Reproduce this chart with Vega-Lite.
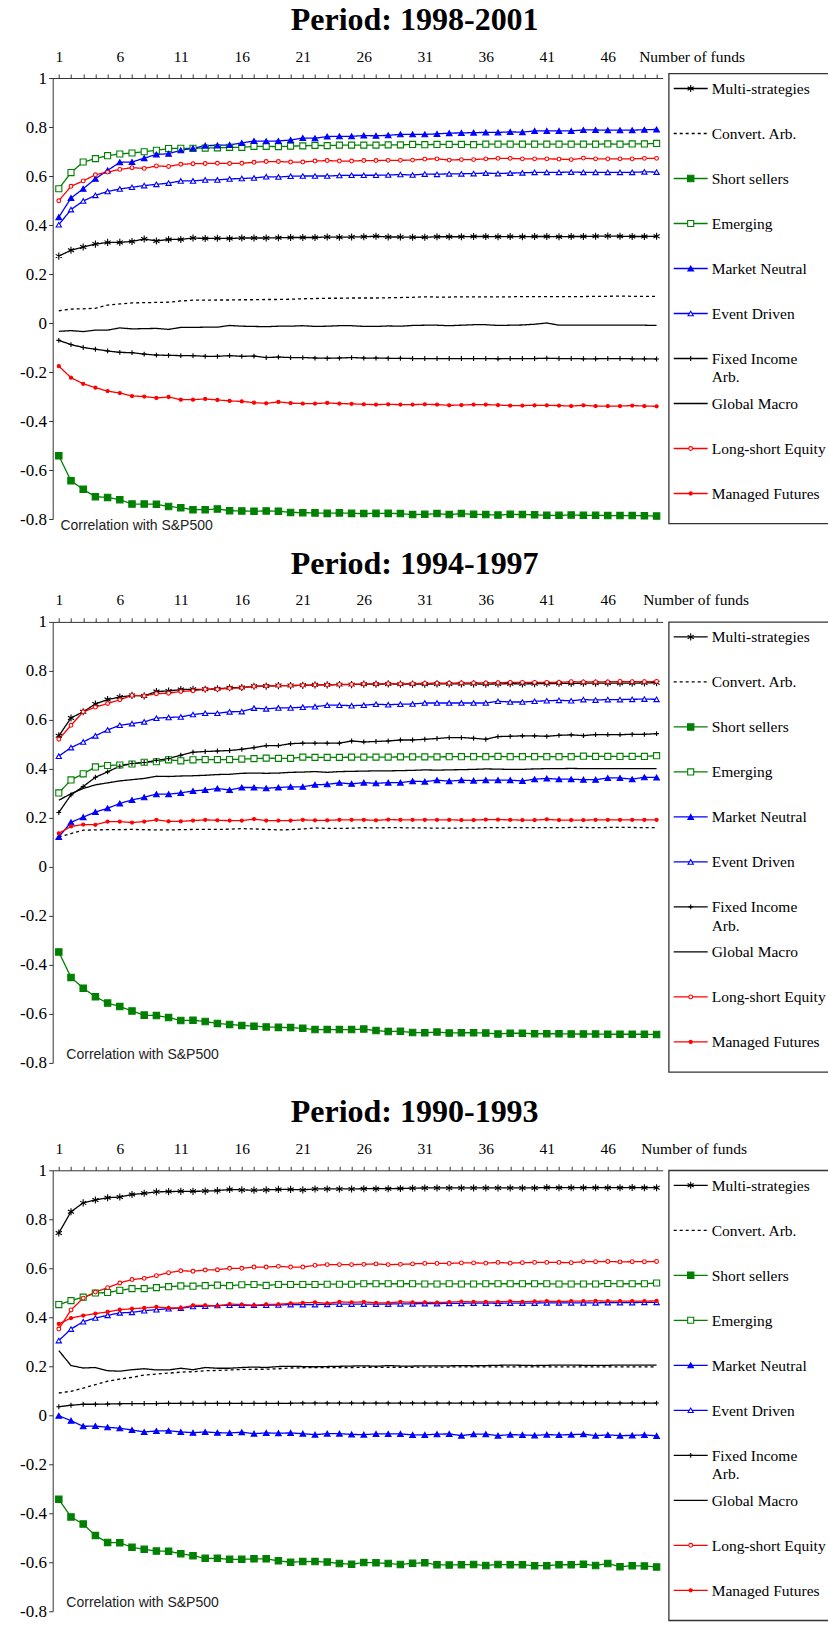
{
"$schema": "https://vega.github.io/schema/vega-lite/v6.json",
"background": "white",
"padding": {"left": 18.7, "top": 3.5, "right": 0, "bottom": 0},
"columns": 2,
"bounds": "flush",
"center": true,
"spacing": {"row": 98.4, "column": 6},
"config": {
  "view": {"stroke": null},
  "axis": {"labelFont": "Liberation Serif", "labelFontSize": 15.5, "labelColor": "#000", "titleFont": "Liberation Serif", "titleFontSize": 15.5, "titleFontWeight": "normal", "titleColor": "#000", "domainColor": "#333", "tickColor": "#333", "grid": false},
  "title": {"font": "Liberation Serif", "fontSize": 32, "fontWeight": "bold", "color": "#000", "anchor": "middle"}
},
"datasets": {
"leg": [
{"key":"MS","label":"Multi-strategies"},
{"key":"CA","label":"Convert. Arb."},
{"key":"SS","label":"Short sellers"},
{"key":"EM","label":"Emerging"},
{"key":"MN","label":"Market Neutral"},
{"key":"ED","label":"Event Driven"},
{"key":"FI","label":"Fixed Income\nArb."},
{"key":"GM","label":"Global Macro"},
{"key":"LS","label":"Long-short Equity"},
{"key":"MF","label":"Managed Futures"}
],
"p1": [
{"n":1,"MS":0.273,"CA":0.050,"SS":-0.542,"EM":0.548,"MN":0.432,"ED":0.401,"FI":-0.071,"GM":-0.034,"LS":0.499,"MF":-0.176},
{"n":2,"MS":0.297,"CA":0.057,"SS":-0.644,"EM":0.614,"MN":0.510,"ED":0.463,"FI":-0.088,"GM":-0.031,"LS":0.558,"MF":-0.223},
{"n":3,"MS":0.310,"CA":0.058,"SS":-0.679,"EM":0.657,"MN":0.548,"ED":0.498,"FI":-0.100,"GM":-0.035,"LS":0.580,"MF":-0.248},
{"n":4,"MS":0.322,"CA":0.060,"SS":-0.709,"EM":0.671,"MN":0.589,"ED":0.521,"FI":-0.107,"GM":-0.029,"LS":0.605,"MF":-0.264},
{"n":5,"MS":0.329,"CA":0.073,"SS":-0.712,"EM":0.683,"MN":0.623,"ED":0.537,"FI":-0.114,"GM":-0.029,"LS":0.616,"MF":-0.278},
{"n":6,"MS":0.329,"CA":0.078,"SS":-0.721,"EM":0.690,"MN":0.656,"ED":0.547,"FI":-0.120,"GM":-0.020,"LS":0.627,"MF":-0.286},
{"n":7,"MS":0.333,"CA":0.082,"SS":-0.739,"EM":0.694,"MN":0.657,"ED":0.554,"FI":-0.121,"GM":-0.024,"LS":0.634,"MF":-0.298},
{"n":8,"MS":0.343,"CA":0.083,"SS":-0.739,"EM":0.699,"MN":0.673,"ED":0.561,"FI":-0.127,"GM":-0.023,"LS":0.631,"MF":-0.300},
{"n":9,"MS":0.335,"CA":0.084,"SS":-0.740,"EM":0.705,"MN":0.688,"ED":0.566,"FI":-0.131,"GM":-0.022,"LS":0.641,"MF":-0.306},
{"n":10,"MS":0.341,"CA":0.085,"SS":-0.749,"EM":0.712,"MN":0.691,"ED":0.571,"FI":-0.132,"GM":-0.026,"LS":0.639,"MF":-0.302},
{"n":11,"MS":0.341,"CA":0.090,"SS":-0.754,"EM":0.713,"MN":0.705,"ED":0.580,"FI":-0.133,"GM":-0.018,"LS":0.648,"MF":-0.313},
{"n":12,"MS":0.347,"CA":0.093,"SS":-0.762,"EM":0.713,"MN":0.713,"ED":0.580,"FI":-0.133,"GM":-0.018,"LS":0.650,"MF":-0.313},
{"n":13,"MS":0.345,"CA":0.093,"SS":-0.762,"EM":0.714,"MN":0.724,"ED":0.584,"FI":-0.136,"GM":-0.017,"LS":0.651,"MF":-0.310},
{"n":14,"MS":0.346,"CA":0.094,"SS":-0.759,"EM":0.715,"MN":0.725,"ED":0.584,"FI":-0.136,"GM":-0.017,"LS":0.652,"MF":-0.314},
{"n":15,"MS":0.345,"CA":0.094,"SS":-0.766,"EM":0.717,"MN":0.727,"ED":0.588,"FI":-0.133,"GM":-0.010,"LS":0.651,"MF":-0.318},
{"n":16,"MS":0.347,"CA":0.095,"SS":-0.767,"EM":0.717,"MN":0.735,"ED":0.590,"FI":-0.136,"GM":-0.013,"LS":0.652,"MF":-0.320},
{"n":17,"MS":0.347,"CA":0.095,"SS":-0.768,"EM":0.721,"MN":0.743,"ED":0.592,"FI":-0.135,"GM":-0.014,"LS":0.656,"MF":-0.325},
{"n":18,"MS":0.347,"CA":0.096,"SS":-0.767,"EM":0.721,"MN":0.742,"ED":0.597,"FI":-0.141,"GM":-0.015,"LS":0.659,"MF":-0.328},
{"n":19,"MS":0.348,"CA":0.096,"SS":-0.768,"EM":0.720,"MN":0.743,"ED":0.596,"FI":-0.139,"GM":-0.013,"LS":0.659,"MF":-0.322},
{"n":20,"MS":0.349,"CA":0.097,"SS":-0.773,"EM":0.722,"MN":0.747,"ED":0.599,"FI":-0.141,"GM":-0.013,"LS":0.657,"MF":-0.327},
{"n":21,"MS":0.349,"CA":0.099,"SS":-0.774,"EM":0.723,"MN":0.755,"ED":0.600,"FI":-0.141,"GM":-0.011,"LS":0.657,"MF":-0.329},
{"n":22,"MS":0.349,"CA":0.100,"SS":-0.775,"EM":0.725,"MN":0.754,"ED":0.600,"FI":-0.143,"GM":-0.014,"LS":0.661,"MF":-0.329},
{"n":23,"MS":0.351,"CA":0.101,"SS":-0.777,"EM":0.724,"MN":0.761,"ED":0.600,"FI":-0.144,"GM":-0.013,"LS":0.663,"MF":-0.326},
{"n":24,"MS":0.350,"CA":0.101,"SS":-0.775,"EM":0.726,"MN":0.762,"ED":0.602,"FI":-0.143,"GM":-0.011,"LS":0.661,"MF":-0.329},
{"n":25,"MS":0.351,"CA":0.102,"SS":-0.777,"EM":0.726,"MN":0.762,"ED":0.603,"FI":-0.141,"GM":-0.011,"LS":0.661,"MF":-0.330},
{"n":26,"MS":0.352,"CA":0.102,"SS":-0.778,"EM":0.726,"MN":0.765,"ED":0.603,"FI":-0.143,"GM":-0.014,"LS":0.663,"MF":-0.332},
{"n":27,"MS":0.354,"CA":0.102,"SS":-0.777,"EM":0.726,"MN":0.764,"ED":0.603,"FI":-0.143,"GM":-0.014,"LS":0.663,"MF":-0.333},
{"n":28,"MS":0.351,"CA":0.103,"SS":-0.777,"EM":0.727,"MN":0.766,"ED":0.604,"FI":-0.144,"GM":-0.012,"LS":0.664,"MF":-0.332},
{"n":29,"MS":0.351,"CA":0.104,"SS":-0.778,"EM":0.727,"MN":0.770,"ED":0.606,"FI":-0.144,"GM":-0.013,"LS":0.664,"MF":-0.333},
{"n":30,"MS":0.350,"CA":0.105,"SS":-0.782,"EM":0.729,"MN":0.770,"ED":0.604,"FI":-0.145,"GM":-0.010,"LS":0.665,"MF":-0.333},
{"n":31,"MS":0.350,"CA":0.107,"SS":-0.781,"EM":0.728,"MN":0.770,"ED":0.608,"FI":-0.145,"GM":-0.009,"LS":0.669,"MF":-0.332},
{"n":32,"MS":0.352,"CA":0.106,"SS":-0.778,"EM":0.729,"MN":0.772,"ED":0.607,"FI":-0.145,"GM":-0.009,"LS":0.670,"MF":-0.333},
{"n":33,"MS":0.352,"CA":0.106,"SS":-0.782,"EM":0.729,"MN":0.775,"ED":0.609,"FI":-0.145,"GM":-0.011,"LS":0.665,"MF":-0.336},
{"n":34,"MS":0.352,"CA":0.107,"SS":-0.778,"EM":0.729,"MN":0.776,"ED":0.609,"FI":-0.145,"GM":-0.009,"LS":0.667,"MF":-0.335},
{"n":35,"MS":0.353,"CA":0.107,"SS":-0.781,"EM":0.728,"MN":0.777,"ED":0.610,"FI":-0.145,"GM":-0.007,"LS":0.667,"MF":-0.333},
{"n":36,"MS":0.353,"CA":0.107,"SS":-0.782,"EM":0.730,"MN":0.778,"ED":0.612,"FI":-0.145,"GM":-0.007,"LS":0.670,"MF":-0.333},
{"n":37,"MS":0.352,"CA":0.107,"SS":-0.784,"EM":0.730,"MN":0.778,"ED":0.610,"FI":-0.146,"GM":-0.010,"LS":0.672,"MF":-0.335},
{"n":38,"MS":0.353,"CA":0.107,"SS":-0.781,"EM":0.730,"MN":0.780,"ED":0.612,"FI":-0.145,"GM":-0.009,"LS":0.672,"MF":-0.337},
{"n":39,"MS":0.352,"CA":0.108,"SS":-0.782,"EM":0.730,"MN":0.779,"ED":0.613,"FI":-0.145,"GM":-0.008,"LS":0.670,"MF":-0.337},
{"n":40,"MS":0.353,"CA":0.108,"SS":-0.783,"EM":0.730,"MN":0.784,"ED":0.615,"FI":-0.145,"GM":-0.005,"LS":0.670,"MF":-0.336},
{"n":41,"MS":0.353,"CA":0.108,"SS":-0.785,"EM":0.730,"MN":0.784,"ED":0.615,"FI":-0.144,"GM":0.000,"LS":0.670,"MF":-0.336},
{"n":42,"MS":0.352,"CA":0.108,"SS":-0.785,"EM":0.730,"MN":0.784,"ED":0.615,"FI":-0.145,"GM":-0.009,"LS":0.669,"MF":-0.337},
{"n":43,"MS":0.353,"CA":0.108,"SS":-0.784,"EM":0.730,"MN":0.784,"ED":0.616,"FI":-0.145,"GM":-0.009,"LS":0.667,"MF":-0.339},
{"n":44,"MS":0.353,"CA":0.108,"SS":-0.785,"EM":0.730,"MN":0.788,"ED":0.615,"FI":-0.146,"GM":-0.009,"LS":0.673,"MF":-0.336},
{"n":45,"MS":0.354,"CA":0.109,"SS":-0.785,"EM":0.730,"MN":0.788,"ED":0.615,"FI":-0.146,"GM":-0.009,"LS":0.670,"MF":-0.339},
{"n":46,"MS":0.355,"CA":0.109,"SS":-0.786,"EM":0.731,"MN":0.787,"ED":0.615,"FI":-0.145,"GM":-0.009,"LS":0.670,"MF":-0.339},
{"n":47,"MS":0.354,"CA":0.110,"SS":-0.786,"EM":0.730,"MN":0.787,"ED":0.615,"FI":-0.145,"GM":-0.009,"LS":0.670,"MF":-0.339},
{"n":48,"MS":0.353,"CA":0.109,"SS":-0.786,"EM":0.731,"MN":0.787,"ED":0.615,"FI":-0.146,"GM":-0.009,"LS":0.670,"MF":-0.337},
{"n":49,"MS":0.353,"CA":0.109,"SS":-0.787,"EM":0.731,"MN":0.789,"ED":0.617,"FI":-0.146,"GM":-0.009,"LS":0.672,"MF":-0.339},
{"n":50,"MS":0.354,"CA":0.109,"SS":-0.788,"EM":0.733,"MN":0.790,"ED":0.616,"FI":-0.147,"GM":-0.010,"LS":0.672,"MF":-0.340}
],
"p2": [
{"n":1,"MS":0.535,"CA":0.122,"SS":-0.347,"EM":0.302,"MN":0.122,"ED":0.452,"FI":0.222,"GM":0.272,"LS":0.521,"MF":0.137},
{"n":2,"MS":0.608,"CA":0.136,"SS":-0.451,"EM":0.355,"MN":0.182,"ED":0.487,"FI":0.294,"GM":0.299,"LS":0.578,"MF":0.165},
{"n":3,"MS":0.633,"CA":0.150,"SS":-0.495,"EM":0.380,"MN":0.203,"ED":0.510,"FI":0.328,"GM":0.320,"LS":0.633,"MF":0.173},
{"n":4,"MS":0.665,"CA":0.151,"SS":-0.530,"EM":0.408,"MN":0.224,"ED":0.535,"FI":0.366,"GM":0.335,"LS":0.652,"MF":0.172},
{"n":5,"MS":0.683,"CA":0.152,"SS":-0.556,"EM":0.414,"MN":0.239,"ED":0.559,"FI":0.388,"GM":0.343,"LS":0.667,"MF":0.185},
{"n":6,"MS":0.693,"CA":0.152,"SS":-0.570,"EM":0.416,"MN":0.259,"ED":0.578,"FI":0.411,"GM":0.351,"LS":0.682,"MF":0.185},
{"n":7,"MS":0.700,"CA":0.153,"SS":-0.588,"EM":0.420,"MN":0.273,"ED":0.585,"FI":0.422,"GM":0.356,"LS":0.700,"MF":0.181},
{"n":8,"MS":0.698,"CA":0.152,"SS":-0.605,"EM":0.427,"MN":0.284,"ED":0.592,"FI":0.426,"GM":0.361,"LS":0.698,"MF":0.185},
{"n":9,"MS":0.716,"CA":0.151,"SS":-0.607,"EM":0.429,"MN":0.297,"ED":0.607,"FI":0.435,"GM":0.370,"LS":0.707,"MF":0.192},
{"n":10,"MS":0.718,"CA":0.151,"SS":-0.615,"EM":0.437,"MN":0.297,"ED":0.610,"FI":0.442,"GM":0.369,"LS":0.709,"MF":0.186},
{"n":11,"MS":0.724,"CA":0.152,"SS":-0.627,"EM":0.433,"MN":0.302,"ED":0.612,"FI":0.456,"GM":0.371,"LS":0.716,"MF":0.186},
{"n":12,"MS":0.725,"CA":0.153,"SS":-0.626,"EM":0.437,"MN":0.310,"ED":0.622,"FI":0.468,"GM":0.372,"LS":0.719,"MF":0.189},
{"n":13,"MS":0.725,"CA":0.153,"SS":-0.631,"EM":0.438,"MN":0.314,"ED":0.627,"FI":0.471,"GM":0.374,"LS":0.725,"MF":0.192},
{"n":14,"MS":0.727,"CA":0.153,"SS":-0.639,"EM":0.438,"MN":0.320,"ED":0.627,"FI":0.473,"GM":0.377,"LS":0.725,"MF":0.190},
{"n":15,"MS":0.731,"CA":0.154,"SS":-0.643,"EM":0.438,"MN":0.314,"ED":0.633,"FI":0.475,"GM":0.378,"LS":0.729,"MF":0.189},
{"n":16,"MS":0.732,"CA":0.156,"SS":-0.647,"EM":0.440,"MN":0.324,"ED":0.634,"FI":0.480,"GM":0.382,"LS":0.731,"MF":0.189},
{"n":17,"MS":0.737,"CA":0.155,"SS":-0.650,"EM":0.442,"MN":0.324,"ED":0.648,"FI":0.487,"GM":0.383,"LS":0.737,"MF":0.195},
{"n":18,"MS":0.738,"CA":0.153,"SS":-0.653,"EM":0.444,"MN":0.321,"ED":0.645,"FI":0.495,"GM":0.382,"LS":0.738,"MF":0.189},
{"n":19,"MS":0.740,"CA":0.151,"SS":-0.655,"EM":0.443,"MN":0.324,"ED":0.649,"FI":0.495,"GM":0.383,"LS":0.740,"MF":0.189},
{"n":20,"MS":0.740,"CA":0.152,"SS":-0.656,"EM":0.443,"MN":0.327,"ED":0.649,"FI":0.503,"GM":0.386,"LS":0.740,"MF":0.189},
{"n":21,"MS":0.741,"CA":0.155,"SS":-0.659,"EM":0.448,"MN":0.327,"ED":0.652,"FI":0.505,"GM":0.387,"LS":0.741,"MF":0.192},
{"n":22,"MS":0.743,"CA":0.159,"SS":-0.664,"EM":0.447,"MN":0.335,"ED":0.654,"FI":0.505,"GM":0.389,"LS":0.743,"MF":0.190},
{"n":23,"MS":0.743,"CA":0.157,"SS":-0.664,"EM":0.447,"MN":0.337,"ED":0.660,"FI":0.505,"GM":0.386,"LS":0.743,"MF":0.190},
{"n":24,"MS":0.744,"CA":0.157,"SS":-0.664,"EM":0.447,"MN":0.343,"ED":0.660,"FI":0.505,"GM":0.389,"LS":0.745,"MF":0.192},
{"n":25,"MS":0.744,"CA":0.158,"SS":-0.664,"EM":0.448,"MN":0.339,"ED":0.658,"FI":0.514,"GM":0.390,"LS":0.745,"MF":0.192},
{"n":26,"MS":0.746,"CA":0.160,"SS":-0.662,"EM":0.448,"MN":0.344,"ED":0.660,"FI":0.510,"GM":0.391,"LS":0.747,"MF":0.192},
{"n":27,"MS":0.746,"CA":0.159,"SS":-0.668,"EM":0.448,"MN":0.341,"ED":0.664,"FI":0.512,"GM":0.392,"LS":0.747,"MF":0.190},
{"n":28,"MS":0.747,"CA":0.160,"SS":-0.672,"EM":0.448,"MN":0.344,"ED":0.662,"FI":0.514,"GM":0.392,"LS":0.748,"MF":0.193},
{"n":29,"MS":0.746,"CA":0.160,"SS":-0.671,"EM":0.449,"MN":0.344,"ED":0.664,"FI":0.518,"GM":0.393,"LS":0.747,"MF":0.192},
{"n":30,"MS":0.746,"CA":0.159,"SS":-0.676,"EM":0.449,"MN":0.350,"ED":0.665,"FI":0.518,"GM":0.394,"LS":0.748,"MF":0.192},
{"n":31,"MS":0.746,"CA":0.159,"SS":-0.677,"EM":0.449,"MN":0.348,"ED":0.669,"FI":0.521,"GM":0.396,"LS":0.749,"MF":0.192},
{"n":32,"MS":0.747,"CA":0.158,"SS":-0.674,"EM":0.449,"MN":0.354,"ED":0.669,"FI":0.524,"GM":0.395,"LS":0.750,"MF":0.192},
{"n":33,"MS":0.747,"CA":0.158,"SS":-0.678,"EM":0.450,"MN":0.350,"ED":0.669,"FI":0.528,"GM":0.396,"LS":0.750,"MF":0.192},
{"n":34,"MS":0.747,"CA":0.159,"SS":-0.677,"EM":0.450,"MN":0.354,"ED":0.669,"FI":0.528,"GM":0.397,"LS":0.751,"MF":0.191},
{"n":35,"MS":0.747,"CA":0.159,"SS":-0.677,"EM":0.450,"MN":0.352,"ED":0.669,"FI":0.525,"GM":0.398,"LS":0.751,"MF":0.191},
{"n":36,"MS":0.746,"CA":0.160,"SS":-0.678,"EM":0.450,"MN":0.354,"ED":0.669,"FI":0.521,"GM":0.400,"LS":0.751,"MF":0.193},
{"n":37,"MS":0.747,"CA":0.160,"SS":-0.682,"EM":0.451,"MN":0.354,"ED":0.676,"FI":0.532,"GM":0.399,"LS":0.752,"MF":0.193},
{"n":38,"MS":0.748,"CA":0.161,"SS":-0.679,"EM":0.450,"MN":0.354,"ED":0.673,"FI":0.533,"GM":0.398,"LS":0.753,"MF":0.192},
{"n":39,"MS":0.747,"CA":0.160,"SS":-0.679,"EM":0.450,"MN":0.351,"ED":0.673,"FI":0.535,"GM":0.398,"LS":0.753,"MF":0.191},
{"n":40,"MS":0.748,"CA":0.160,"SS":-0.681,"EM":0.450,"MN":0.358,"ED":0.676,"FI":0.535,"GM":0.400,"LS":0.753,"MF":0.191},
{"n":41,"MS":0.748,"CA":0.160,"SS":-0.681,"EM":0.450,"MN":0.361,"ED":0.678,"FI":0.533,"GM":0.401,"LS":0.753,"MF":0.194},
{"n":42,"MS":0.749,"CA":0.160,"SS":-0.681,"EM":0.450,"MN":0.358,"ED":0.680,"FI":0.537,"GM":0.401,"LS":0.753,"MF":0.191},
{"n":43,"MS":0.749,"CA":0.161,"SS":-0.682,"EM":0.450,"MN":0.358,"ED":0.678,"FI":0.539,"GM":0.402,"LS":0.756,"MF":0.191},
{"n":44,"MS":0.750,"CA":0.161,"SS":-0.682,"EM":0.452,"MN":0.356,"ED":0.683,"FI":0.536,"GM":0.401,"LS":0.755,"MF":0.191},
{"n":45,"MS":0.750,"CA":0.160,"SS":-0.682,"EM":0.451,"MN":0.356,"ED":0.681,"FI":0.540,"GM":0.401,"LS":0.755,"MF":0.192},
{"n":46,"MS":0.750,"CA":0.161,"SS":-0.683,"EM":0.451,"MN":0.363,"ED":0.683,"FI":0.540,"GM":0.401,"LS":0.755,"MF":0.192},
{"n":47,"MS":0.750,"CA":0.161,"SS":-0.683,"EM":0.451,"MN":0.363,"ED":0.683,"FI":0.540,"GM":0.401,"LS":0.757,"MF":0.192},
{"n":48,"MS":0.750,"CA":0.161,"SS":-0.683,"EM":0.451,"MN":0.358,"ED":0.684,"FI":0.541,"GM":0.401,"LS":0.756,"MF":0.192},
{"n":49,"MS":0.751,"CA":0.160,"SS":-0.683,"EM":0.451,"MN":0.366,"ED":0.685,"FI":0.541,"GM":0.401,"LS":0.756,"MF":0.192},
{"n":50,"MS":0.752,"CA":0.160,"SS":-0.684,"EM":0.454,"MN":0.365,"ED":0.684,"FI":0.544,"GM":0.401,"LS":0.757,"MF":0.192}
],
"p3": [
{"n":1,"MS":0.744,"CA":0.091,"SS":-0.343,"EM":0.452,"MN":-0.002,"ED":0.305,"FI":0.035,"GM":0.264,"LS":0.352,"MF":0.373},
{"n":2,"MS":0.831,"CA":0.098,"SS":-0.415,"EM":0.468,"MN":-0.022,"ED":0.352,"FI":0.041,"GM":0.203,"LS":0.430,"MF":0.397},
{"n":3,"MS":0.867,"CA":0.111,"SS":-0.444,"EM":0.482,"MN":-0.045,"ED":0.382,"FI":0.045,"GM":0.193,"LS":0.478,"MF":0.407},
{"n":4,"MS":0.879,"CA":0.125,"SS":-0.491,"EM":0.499,"MN":-0.044,"ED":0.397,"FI":0.045,"GM":0.195,"LS":0.503,"MF":0.415},
{"n":5,"MS":0.888,"CA":0.139,"SS":-0.519,"EM":0.501,"MN":-0.049,"ED":0.408,"FI":0.046,"GM":0.182,"LS":0.521,"MF":0.422},
{"n":6,"MS":0.891,"CA":0.148,"SS":-0.520,"EM":0.510,"MN":-0.053,"ED":0.418,"FI":0.047,"GM":0.180,"LS":0.540,"MF":0.431},
{"n":7,"MS":0.901,"CA":0.155,"SS":-0.539,"EM":0.517,"MN":-0.060,"ED":0.420,"FI":0.048,"GM":0.186,"LS":0.554,"MF":0.435},
{"n":8,"MS":0.906,"CA":0.164,"SS":-0.547,"EM":0.517,"MN":-0.068,"ED":0.427,"FI":0.048,"GM":0.190,"LS":0.559,"MF":0.438},
{"n":9,"MS":0.912,"CA":0.168,"SS":-0.554,"EM":0.521,"MN":-0.064,"ED":0.431,"FI":0.048,"GM":0.185,"LS":0.570,"MF":0.442},
{"n":10,"MS":0.913,"CA":0.172,"SS":-0.555,"EM":0.525,"MN":-0.063,"ED":0.435,"FI":0.049,"GM":0.185,"LS":0.582,"MF":0.438},
{"n":11,"MS":0.914,"CA":0.176,"SS":-0.565,"EM":0.528,"MN":-0.068,"ED":0.437,"FI":0.049,"GM":0.192,"LS":0.590,"MF":0.438},
{"n":12,"MS":0.914,"CA":0.178,"SS":-0.573,"EM":0.527,"MN":-0.071,"ED":0.444,"FI":0.049,"GM":0.186,"LS":0.588,"MF":0.449},
{"n":13,"MS":0.915,"CA":0.182,"SS":-0.584,"EM":0.529,"MN":-0.068,"ED":0.445,"FI":0.049,"GM":0.195,"LS":0.593,"MF":0.449},
{"n":14,"MS":0.917,"CA":0.183,"SS":-0.584,"EM":0.531,"MN":-0.071,"ED":0.448,"FI":0.049,"GM":0.192,"LS":0.594,"MF":0.446},
{"n":15,"MS":0.922,"CA":0.185,"SS":-0.588,"EM":0.529,"MN":-0.072,"ED":0.449,"FI":0.049,"GM":0.192,"LS":0.600,"MF":0.454},
{"n":16,"MS":0.920,"CA":0.187,"SS":-0.588,"EM":0.533,"MN":-0.069,"ED":0.449,"FI":0.049,"GM":0.195,"LS":0.600,"MF":0.452},
{"n":17,"MS":0.919,"CA":0.188,"SS":-0.586,"EM":0.534,"MN":-0.075,"ED":0.449,"FI":0.049,"GM":0.197,"LS":0.605,"MF":0.449},
{"n":18,"MS":0.920,"CA":0.188,"SS":-0.586,"EM":0.530,"MN":-0.072,"ED":0.449,"FI":0.049,"GM":0.195,"LS":0.605,"MF":0.453},
{"n":19,"MS":0.922,"CA":0.190,"SS":-0.594,"EM":0.534,"MN":-0.073,"ED":0.450,"FI":0.049,"GM":0.199,"LS":0.608,"MF":0.453},
{"n":20,"MS":0.922,"CA":0.193,"SS":-0.600,"EM":0.534,"MN":-0.072,"ED":0.452,"FI":0.049,"GM":0.200,"LS":0.605,"MF":0.457},
{"n":21,"MS":0.920,"CA":0.194,"SS":-0.597,"EM":0.534,"MN":-0.075,"ED":0.452,"FI":0.050,"GM":0.199,"LS":0.605,"MF":0.459},
{"n":22,"MS":0.924,"CA":0.195,"SS":-0.597,"EM":0.534,"MN":-0.079,"ED":0.452,"FI":0.050,"GM":0.198,"LS":0.612,"MF":0.461},
{"n":23,"MS":0.924,"CA":0.195,"SS":-0.599,"EM":0.535,"MN":-0.075,"ED":0.453,"FI":0.050,"GM":0.199,"LS":0.615,"MF":0.457},
{"n":24,"MS":0.924,"CA":0.195,"SS":-0.605,"EM":0.535,"MN":-0.075,"ED":0.454,"FI":0.050,"GM":0.200,"LS":0.615,"MF":0.463},
{"n":25,"MS":0.924,"CA":0.195,"SS":-0.608,"EM":0.535,"MN":-0.078,"ED":0.454,"FI":0.050,"GM":0.201,"LS":0.615,"MF":0.461},
{"n":26,"MS":0.925,"CA":0.196,"SS":-0.601,"EM":0.537,"MN":-0.079,"ED":0.454,"FI":0.050,"GM":0.202,"LS":0.616,"MF":0.463},
{"n":27,"MS":0.925,"CA":0.196,"SS":-0.602,"EM":0.537,"MN":-0.076,"ED":0.454,"FI":0.050,"GM":0.200,"LS":0.618,"MF":0.459},
{"n":28,"MS":0.925,"CA":0.196,"SS":-0.605,"EM":0.537,"MN":-0.076,"ED":0.454,"FI":0.050,"GM":0.203,"LS":0.615,"MF":0.459},
{"n":29,"MS":0.926,"CA":0.196,"SS":-0.609,"EM":0.537,"MN":-0.076,"ED":0.455,"FI":0.050,"GM":0.201,"LS":0.616,"MF":0.463},
{"n":30,"MS":0.927,"CA":0.196,"SS":-0.604,"EM":0.537,"MN":-0.080,"ED":0.455,"FI":0.050,"GM":0.201,"LS":0.618,"MF":0.461},
{"n":31,"MS":0.928,"CA":0.197,"SS":-0.602,"EM":0.536,"MN":-0.080,"ED":0.456,"FI":0.050,"GM":0.202,"LS":0.620,"MF":0.461},
{"n":32,"MS":0.928,"CA":0.197,"SS":-0.610,"EM":0.536,"MN":-0.077,"ED":0.456,"FI":0.050,"GM":0.202,"LS":0.620,"MF":0.460},
{"n":33,"MS":0.928,"CA":0.197,"SS":-0.611,"EM":0.537,"MN":-0.076,"ED":0.457,"FI":0.050,"GM":0.202,"LS":0.620,"MF":0.462},
{"n":34,"MS":0.928,"CA":0.198,"SS":-0.610,"EM":0.536,"MN":-0.083,"ED":0.457,"FI":0.050,"GM":0.203,"LS":0.622,"MF":0.464},
{"n":35,"MS":0.928,"CA":0.198,"SS":-0.609,"EM":0.536,"MN":-0.077,"ED":0.458,"FI":0.050,"GM":0.202,"LS":0.622,"MF":0.463},
{"n":36,"MS":0.928,"CA":0.198,"SS":-0.613,"EM":0.537,"MN":-0.077,"ED":0.458,"FI":0.050,"GM":0.203,"LS":0.621,"MF":0.463},
{"n":37,"MS":0.928,"CA":0.198,"SS":-0.609,"EM":0.537,"MN":-0.083,"ED":0.457,"FI":0.050,"GM":0.204,"LS":0.624,"MF":0.463},
{"n":38,"MS":0.928,"CA":0.198,"SS":-0.610,"EM":0.537,"MN":-0.079,"ED":0.458,"FI":0.050,"GM":0.205,"LS":0.621,"MF":0.465},
{"n":39,"MS":0.928,"CA":0.198,"SS":-0.610,"EM":0.537,"MN":-0.080,"ED":0.458,"FI":0.050,"GM":0.204,"LS":0.623,"MF":0.463},
{"n":40,"MS":0.928,"CA":0.198,"SS":-0.614,"EM":0.537,"MN":-0.082,"ED":0.458,"FI":0.050,"GM":0.203,"LS":0.624,"MF":0.465},
{"n":41,"MS":0.930,"CA":0.198,"SS":-0.614,"EM":0.537,"MN":-0.079,"ED":0.459,"FI":0.050,"GM":0.204,"LS":0.624,"MF":0.466},
{"n":42,"MS":0.929,"CA":0.198,"SS":-0.610,"EM":0.536,"MN":-0.080,"ED":0.459,"FI":0.050,"GM":0.205,"LS":0.624,"MF":0.464},
{"n":43,"MS":0.929,"CA":0.198,"SS":-0.610,"EM":0.536,"MN":-0.079,"ED":0.459,"FI":0.050,"GM":0.205,"LS":0.623,"MF":0.466},
{"n":44,"MS":0.929,"CA":0.198,"SS":-0.608,"EM":0.536,"MN":-0.077,"ED":0.459,"FI":0.050,"GM":0.204,"LS":0.627,"MF":0.466},
{"n":45,"MS":0.929,"CA":0.198,"SS":-0.613,"EM":0.536,"MN":-0.083,"ED":0.459,"FI":0.050,"GM":0.204,"LS":0.627,"MF":0.467},
{"n":46,"MS":0.929,"CA":0.198,"SS":-0.605,"EM":0.538,"MN":-0.080,"ED":0.460,"FI":0.050,"GM":0.204,"LS":0.628,"MF":0.466},
{"n":47,"MS":0.929,"CA":0.198,"SS":-0.618,"EM":0.537,"MN":-0.083,"ED":0.460,"FI":0.050,"GM":0.205,"LS":0.626,"MF":0.466},
{"n":48,"MS":0.930,"CA":0.198,"SS":-0.614,"EM":0.537,"MN":-0.082,"ED":0.460,"FI":0.050,"GM":0.205,"LS":0.627,"MF":0.466},
{"n":49,"MS":0.929,"CA":0.198,"SS":-0.615,"EM":0.537,"MN":-0.080,"ED":0.461,"FI":0.050,"GM":0.205,"LS":0.627,"MF":0.466},
{"n":50,"MS":0.929,"CA":0.198,"SS":-0.619,"EM":0.540,"MN":-0.084,"ED":0.461,"FI":0.050,"GM":0.205,"LS":0.628,"MF":0.467}
]
},
"concat": [
{
  "width": 610, "height": 441,
  "view": {"stroke": null},
  "title": {"text": "Period: 1998-2001", "dx": 57, "offset": 12},
  "data": {"name": "p1"},
  "transform": [{"fold": ["MS","CA","SS","EM","MN","ED","FI","GM","LS","MF"], "as": ["key","value"]}],
  "encoding": {
    "x": {"field": "n", "type": "quantitative", "scale": {"domain": [0.5, 50.5], "nice": false, "zero": false},
      "axis": {"orient": "top", "values": [1,2,3,4,5,6,7,8,9,10,11,12,13,14,15,16,17,18,19,20,21,22,23,24,25,26,27,28,29,30,31,32,33,34,35,36,37,38,39,40,41,42,43,44,45,46,47,48,49,50], "labelExpr": "(datum.value - 1) % 5 == 0 ? datum.label : ''", "tickSize": 4, "labelPadding": 18, "labelBaseline": "middle", "labelFlush": false, "labelOverlap": false, "title": "Number of funds", "titleX": 586, "titleY": -22, "titleAlign": "left", "titleBaseline": "middle", "titleAngle": 0}},
    "y": {"field": "value", "type": "quantitative", "scale": {"domain": [-0.8, 1], "nice": false, "zero": false},
      "axis": {"values": [-0.8,-0.6,-0.4,-0.2,0,0.2,0.4,0.6,0.8,1], "labelExpr": "datum.value < 0 ? '-' + format(-datum.value, '.1~f') : format(datum.value, '.1~f')", "tickSize": 4, "labelPadding": 2.3, "labelBaseline": "middle", "labelFontSize": 17, "title": null}}
  },
  "layer": [
    {"mark": {"type": "line", "strokeWidth": 1.3},
     "encoding": {
       "stroke": {"field": "key", "type": "nominal", "legend": null, "scale": {"domain": ["MS","CA","SS","EM","MN","ED","FI","GM","LS","MF"], "range": ["#000000","#000000","#008000","#008000","#0000ff","#0000ff","#000000","#000000","#ff0000","#ff0000"]}},
       "strokeDash": {"field": "key", "type": "nominal", "legend": null, "scale": {"domain": ["MS","CA","SS","EM","MN","ED","FI","GM","LS","MF"], "range": [[1,0],[3,3],[1,0],[1,0],[1,0],[1,0],[1,0],[1,0],[1,0],[1,0]]}}
     }},
    {"transform": [{"filter": "datum.key != 'CA' && datum.key != 'GM'"}],
     "mark": {"type": "point", "strokeWidth": 1.1, "opacity": 1},
     "encoding": {
       "stroke": {"field": "key", "type": "nominal", "legend": null},
       "fill": {"field": "key", "type": "nominal", "legend": null, "scale": {"domain": ["MS","CA","SS","EM","MN","ED","FI","GM","LS","MF"], "range": ["transparent","transparent","#008000","#ffffff","#0000ff","#ffffff","transparent","transparent","#ffffff","#ff0000"]}},
       "shape": {"field": "key", "type": "nominal", "legend": null, "scale": {"domain": ["MS","CA","SS","EM","MN","ED","FI","GM","LS","MF"], "range": ["M0,-1L0,1M-0.87,-0.5L0.87,0.5M-0.87,0.5L0.87,-0.5","circle","square","square","triangle-up","triangle-up","M-1,0L1,0M0,-1L0,1","circle","circle","circle"]}},
       "size": {"field": "key", "type": "nominal", "legend": null, "scale": {"domain": ["MS","CA","SS","EM","MN","ED","FI","GM","LS","MF"], "range": [50,10,36,36,45,45,55,10,32,34]}}
     }},
    {"transform": [{"filter": "datum.n == 1 && datum.key == 'MS'"}],
     "mark": {"type": "text", "align": "left", "baseline": "middle", "font": "Liberation Sans", "fontSize": 14, "color": "#222"},
     "encoding": {"x": {"datum": 1.13, "type": "quantitative"}, "y": {"datum": -0.829, "type": "quantitative"}, "text": {"value": "Correlation with S&P500"}}}
  ]
},
{
  "width": 160, "height": 450,
  "view": {"stroke": "#333", "strokeWidth": 1.3},
  "data": {"name": "leg"},
  "encoding": {"y": {"field": "key", "type": "nominal", "axis": null, "scale": {"type": "point", "padding": 0, "domain": ["MS","CA","SS","EM","MN","ED","FI","GM","LS","MF"], "range": [15, 420]}}},
  "layer": [
    {"mark": {"type": "rule", "strokeWidth": 1.3},
     "encoding": {"x": {"datum": 5, "type": "quantitative", "axis": null, "scale": {"domain": [0, 160], "nice": false, "zero": false}}, "x2": {"datum": 39},
       "stroke": {"field": "key", "type": "nominal", "legend": null},
       "strokeDash": {"field": "key", "type": "nominal", "legend": null}}},
    {"transform": [{"filter": "datum.key != 'CA' && datum.key != 'GM'"}],
     "mark": {"type": "point", "strokeWidth": 1.1, "opacity": 1},
     "encoding": {"x": {"datum": 22, "type": "quantitative"},
       "stroke": {"field": "key", "type": "nominal", "legend": null},
       "fill": {"field": "key", "type": "nominal", "legend": null},
       "shape": {"field": "key", "type": "nominal", "legend": null},
       "size": {"field": "key", "type": "nominal", "legend": null}}},
    {"mark": {"type": "text", "align": "left", "baseline": "alphabetic", "dy": 5.5, "lineBreak": "\n", "lineHeight": 18.3, "font": "Liberation Serif", "fontSize": 15.5, "color": "#000"},
     "encoding": {"x": {"datum": 43, "type": "quantitative"}, "text": {"field": "label"}}}
  ]
},
{
  "width": 610, "height": 441,
  "view": {"stroke": null},
  "title": {"text": "Period: 1994-1997", "dx": 57, "offset": 12},
  "data": {"name": "p2"},
  "transform": [{"fold": ["MS","CA","SS","EM","MN","ED","FI","GM","LS","MF"], "as": ["key","value"]}],
  "encoding": {
    "x": {"field": "n", "type": "quantitative", "scale": {"domain": [0.5, 50.5], "nice": false, "zero": false},
      "axis": {"orient": "top", "values": [1,2,3,4,5,6,7,8,9,10,11,12,13,14,15,16,17,18,19,20,21,22,23,24,25,26,27,28,29,30,31,32,33,34,35,36,37,38,39,40,41,42,43,44,45,46,47,48,49,50], "labelExpr": "(datum.value - 1) % 5 == 0 ? datum.label : ''", "tickSize": 4, "labelPadding": 18, "labelBaseline": "middle", "labelFlush": false, "labelOverlap": false, "title": "Number of funds", "titleX": 590, "titleY": -22, "titleAlign": "left", "titleBaseline": "middle", "titleAngle": 0}},
    "y": {"field": "value", "type": "quantitative", "scale": {"domain": [-0.8, 1], "nice": false, "zero": false},
      "axis": {"values": [-0.8,-0.6,-0.4,-0.2,0,0.2,0.4,0.6,0.8,1], "labelExpr": "datum.value < 0 ? '-' + format(-datum.value, '.1~f') : format(datum.value, '.1~f')", "tickSize": 4, "labelPadding": 2.3, "labelBaseline": "middle", "labelFontSize": 17, "title": null}}
  },
  "layer": [
    {"mark": {"type": "line", "strokeWidth": 1.3},
     "encoding": {
       "stroke": {"field": "key", "type": "nominal", "legend": null},
       "strokeDash": {"field": "key", "type": "nominal", "legend": null}
     }},
    {"transform": [{"filter": "datum.key != 'CA' && datum.key != 'GM'"}],
     "mark": {"type": "point", "strokeWidth": 1.1, "opacity": 1},
     "encoding": {
       "stroke": {"field": "key", "type": "nominal", "legend": null},
       "fill": {"field": "key", "type": "nominal", "legend": null},
       "shape": {"field": "key", "type": "nominal", "legend": null},
       "size": {"field": "key", "type": "nominal", "legend": null}
     }},
    {"transform": [{"filter": "datum.n == 1 && datum.key == 'MS'"}],
     "mark": {"type": "text", "align": "left", "baseline": "middle", "font": "Liberation Sans", "fontSize": 14, "color": "#222"},
     "encoding": {"x": {"datum": 1.62, "type": "quantitative"}, "y": {"datum": -0.767, "type": "quantitative"}, "text": {"value": "Correlation with S&P500"}}}
  ]
},
{
  "width": 160, "height": 450,
  "view": {"stroke": "#333", "strokeWidth": 1.3},
  "data": {"name": "leg"},
  "encoding": {"y": {"field": "key", "type": "nominal", "axis": null, "scale": {"type": "point", "padding": 0, "domain": ["MS","CA","SS","EM","MN","ED","FI","GM","LS","MF"], "range": [15, 420]}}},
  "layer": [
    {"mark": {"type": "rule", "strokeWidth": 1.3},
     "encoding": {"x": {"datum": 5, "type": "quantitative", "axis": null, "scale": {"domain": [0, 160], "nice": false, "zero": false}}, "x2": {"datum": 39},
       "stroke": {"field": "key", "type": "nominal", "legend": null},
       "strokeDash": {"field": "key", "type": "nominal", "legend": null}}},
    {"transform": [{"filter": "datum.key != 'CA' && datum.key != 'GM'"}],
     "mark": {"type": "point", "strokeWidth": 1.1, "opacity": 1},
     "encoding": {"x": {"datum": 22, "type": "quantitative"},
       "stroke": {"field": "key", "type": "nominal", "legend": null},
       "fill": {"field": "key", "type": "nominal", "legend": null},
       "shape": {"field": "key", "type": "nominal", "legend": null},
       "size": {"field": "key", "type": "nominal", "legend": null}}},
    {"mark": {"type": "text", "align": "left", "baseline": "alphabetic", "dy": 5.5, "lineBreak": "\n", "lineHeight": 18.3, "font": "Liberation Serif", "fontSize": 15.5, "color": "#000"},
     "encoding": {"x": {"datum": 43, "type": "quantitative"}, "text": {"field": "label"}}}
  ]
},
{
  "width": 610, "height": 441,
  "view": {"stroke": null},
  "title": {"text": "Period: 1990-1993", "dx": 57, "offset": 12},
  "data": {"name": "p3"},
  "transform": [{"fold": ["MS","CA","SS","EM","MN","ED","FI","GM","LS","MF"], "as": ["key","value"]}],
  "encoding": {
    "x": {"field": "n", "type": "quantitative", "scale": {"domain": [0.5, 50.5], "nice": false, "zero": false},
      "axis": {"orient": "top", "values": [1,2,3,4,5,6,7,8,9,10,11,12,13,14,15,16,17,18,19,20,21,22,23,24,25,26,27,28,29,30,31,32,33,34,35,36,37,38,39,40,41,42,43,44,45,46,47,48,49,50], "labelExpr": "(datum.value - 1) % 5 == 0 ? datum.label : ''", "tickSize": 4, "labelPadding": 18, "labelBaseline": "middle", "labelFlush": false, "labelOverlap": false, "title": "Number of funds", "titleX": 588, "titleY": -22, "titleAlign": "left", "titleBaseline": "middle", "titleAngle": 0}},
    "y": {"field": "value", "type": "quantitative", "scale": {"domain": [-0.8, 1], "nice": false, "zero": false},
      "axis": {"values": [-0.8,-0.6,-0.4,-0.2,0,0.2,0.4,0.6,0.8,1], "labelExpr": "datum.value < 0 ? '-' + format(-datum.value, '.1~f') : format(datum.value, '.1~f')", "tickSize": 4, "labelPadding": 2.3, "labelBaseline": "middle", "labelFontSize": 17, "title": null}}
  },
  "layer": [
    {"mark": {"type": "line", "strokeWidth": 1.3},
     "encoding": {
       "stroke": {"field": "key", "type": "nominal", "legend": null},
       "strokeDash": {"field": "key", "type": "nominal", "legend": null}
     }},
    {"transform": [{"filter": "datum.key != 'CA' && datum.key != 'GM'"}],
     "mark": {"type": "point", "strokeWidth": 1.1, "opacity": 1},
     "encoding": {
       "stroke": {"field": "key", "type": "nominal", "legend": null},
       "fill": {"field": "key", "type": "nominal", "legend": null},
       "shape": {"field": "key", "type": "nominal", "legend": null},
       "size": {"field": "key", "type": "nominal", "legend": null}
     }},
    {"transform": [{"filter": "datum.n == 1 && datum.key == 'MS'"}],
     "mark": {"type": "text", "align": "left", "baseline": "middle", "font": "Liberation Sans", "fontSize": 14, "color": "#222"},
     "encoding": {"x": {"datum": 1.62, "type": "quantitative"}, "y": {"datum": -0.767, "type": "quantitative"}, "text": {"value": "Correlation with S&P500"}}}
  ]
},
{
  "width": 160, "height": 450,
  "view": {"stroke": "#333", "strokeWidth": 1.3},
  "data": {"name": "leg"},
  "encoding": {"y": {"field": "key", "type": "nominal", "axis": null, "scale": {"type": "point", "padding": 0, "domain": ["MS","CA","SS","EM","MN","ED","FI","GM","LS","MF"], "range": [15, 420]}}},
  "layer": [
    {"mark": {"type": "rule", "strokeWidth": 1.3},
     "encoding": {"x": {"datum": 5, "type": "quantitative", "axis": null, "scale": {"domain": [0, 160], "nice": false, "zero": false}}, "x2": {"datum": 39},
       "stroke": {"field": "key", "type": "nominal", "legend": null},
       "strokeDash": {"field": "key", "type": "nominal", "legend": null}}},
    {"transform": [{"filter": "datum.key != 'CA' && datum.key != 'GM'"}],
     "mark": {"type": "point", "strokeWidth": 1.1, "opacity": 1},
     "encoding": {"x": {"datum": 22, "type": "quantitative"},
       "stroke": {"field": "key", "type": "nominal", "legend": null},
       "fill": {"field": "key", "type": "nominal", "legend": null},
       "shape": {"field": "key", "type": "nominal", "legend": null},
       "size": {"field": "key", "type": "nominal", "legend": null}}},
    {"mark": {"type": "text", "align": "left", "baseline": "alphabetic", "dy": 5.5, "lineBreak": "\n", "lineHeight": 18.3, "font": "Liberation Serif", "fontSize": 15.5, "color": "#000"},
     "encoding": {"x": {"datum": 43, "type": "quantitative"}, "text": {"field": "label"}}}
  ]
}
]
}
